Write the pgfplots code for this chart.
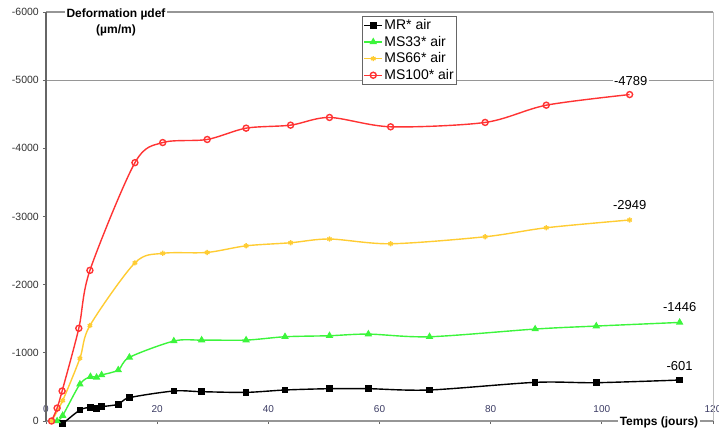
\documentclass[border=0pt]{standalone}
\usepackage{fontspec}
\setmainfont{Liberation Sans}
\usepackage{pgfplots}
\pgfplotsset{compat=1.18}
\definecolor{cblack}{RGB}{0,0,0}
\definecolor{cgreen}{RGB}{60,245,60}
\definecolor{cyellow}{RGB}{255,204,51}
\definecolor{cred}{RGB}{255,51,51}
\definecolor{xlab}{RGB}{60,60,100}
\definecolor{ylab}{RGB}{50,50,50}
\definecolor{frame}{RGB}{150,150,150}
\begin{document}
\begin{tikzpicture}
\begin{axis}[
 scale only axis, width=667pt, height=409pt,
 xmin=0, xmax=120, ymin=-6000, ymax=0, y dir=reverse,
 xtick={0,20,40,60,80,100,120}, xticklabels={0,20,40,60,80,100,120},
 ytick={-6000,-5000,-4000,-3000,-2000,-1000,0},
 yticklabels={-6000,-5000,-4000,-3000,-2000,-1000,0},
 xtick pos=left, ytick pos=left, tick align=outside, major tick length=3pt,
 tick style={black!60, line width=0.8pt},
 axis line style={draw=none},
 xticklabel style={font=\fontsize{10}{12}\selectfont, text=xlab, anchor=south, inner sep=0pt, yshift=11pt},
 yticklabel style={font=\fontsize{10.5}{12}\selectfont, text=ylab, anchor=east, inner sep=0pt, xshift=-4pt},
 clip=false,
 legend cell align=left,
 legend style={at={(axis description cs:0.474,0.99)}, anchor=north west,
   draw=black!60, line width=0.8pt, fill=white, font=\fontsize{14}{16}\selectfont,
   inner xsep=1pt, inner ysep=1.5pt, row sep=2pt,
   nodes={inner sep=1.5pt}},
 legend image code/.code={\draw[#1, mark repeat=2, mark phase=2] plot coordinates {(0pt,0pt) (9pt,0pt) (18pt,0pt)};},
]
\draw[frame, line width=1.2pt] (axis cs:0,0) -- (axis cs:120,0);
\draw[frame, line width=1.2pt] (axis cs:0,-6000) -- (axis cs:120,-6000);
\draw[frame, line width=1.2pt] (axis cs:0,-5000) -- (axis cs:120,-5000);
\draw[black!25, line width=1pt] (axis cs:120,0) -- (axis cs:120,-6000);
\draw[black!60, line width=2pt] (axis cs:0,0) -- (axis cs:0,-6000);

\addplot[cblack, line width=1.4pt, smooth, mark=square*, mark size=2.6pt, mark options={solid}] coordinates {
(3,40) (6.1,-161) (8,-200) (9.1,-186) (10,-210) (13,-245) (15,-342) (23,-440) (28,-430) (36,-420) (43,-455) (51,-474) (58,-474) (69,-455) (88,-567) (99,-562) (114,-601)};
\addlegendentry{MR* air}
\addplot[cgreen, line width=1.4pt, smooth, mark=triangle*, mark size=3pt] coordinates {
(2,0) (3,-80) (6.1,-540) (8,-650) (9.1,-640) (10,-675) (13,-748) (15,-934) (23,-1173) (28,-1187) (36,-1187) (43,-1236) (51,-1251) (58,-1275) (69,-1236) (88,-1349) (99,-1393) (114,-1446)};
\addlegendentry{MS33* air}
\addplot[cyellow, line width=1.4pt, smooth, mark=asterisk, mark size=2.6pt] coordinates {
(1,0) (3,-300) (6.1,-920) (7.9,-1400) (16,-2320) (21,-2460) (29,-2473) (36,-2570) (44,-2615) (51,-2670) (62,-2600) (79,-2703) (90,-2835) (105,-2949)};
\addlegendentry{MS66* air}
\addplot[cred, line width=1.4pt, smooth, mark=o, mark size=3pt] coordinates {
(1,0) (2,-190) (2.9,-440) (5.9,-1360) (7.9,-2210) (16,-3790) (21,-4085) (29,-4130) (36,-4296) (44,-4340) (51,-4453) (62,-4316) (79,-4380) (90,-4633) (105,-4789)};
\addlegendentry{MS100* air}

\node[font=\fontsize{13}{15}\selectfont, fill=white, inner sep=1.5pt, yshift=14pt, xshift=1pt] at (axis cs:105,-4789) {-4789};
\node[font=\fontsize{13}{15}\selectfont, inner sep=1.5pt, yshift=15pt] at (axis cs:105,-2949) {-2949};
\node[font=\fontsize{13}{15}\selectfont, inner sep=1.5pt, yshift=15pt] at (axis cs:114,-1446) {-1446};
\node[font=\fontsize{13}{15}\selectfont, inner sep=1.5pt, yshift=14pt] at (axis cs:114,-601) {-601};
\end{axis}
\node[font=\bfseries\fontsize{12}{16}\selectfont, align=center, fill=white, inner sep=1.5pt] at (70pt,399pt) {Deformation µdef\\(µm/m)};
\node[font=\bfseries\fontsize{12}{14}\selectfont, fill=white, inner sep=1.5pt] at (613pt,-1pt) {Temps (jours)};
\pgfresetboundingbox
\useasboundingbox (-46pt,-7pt) rectangle (673pt,421pt);
\end{tikzpicture}
\end{document}
